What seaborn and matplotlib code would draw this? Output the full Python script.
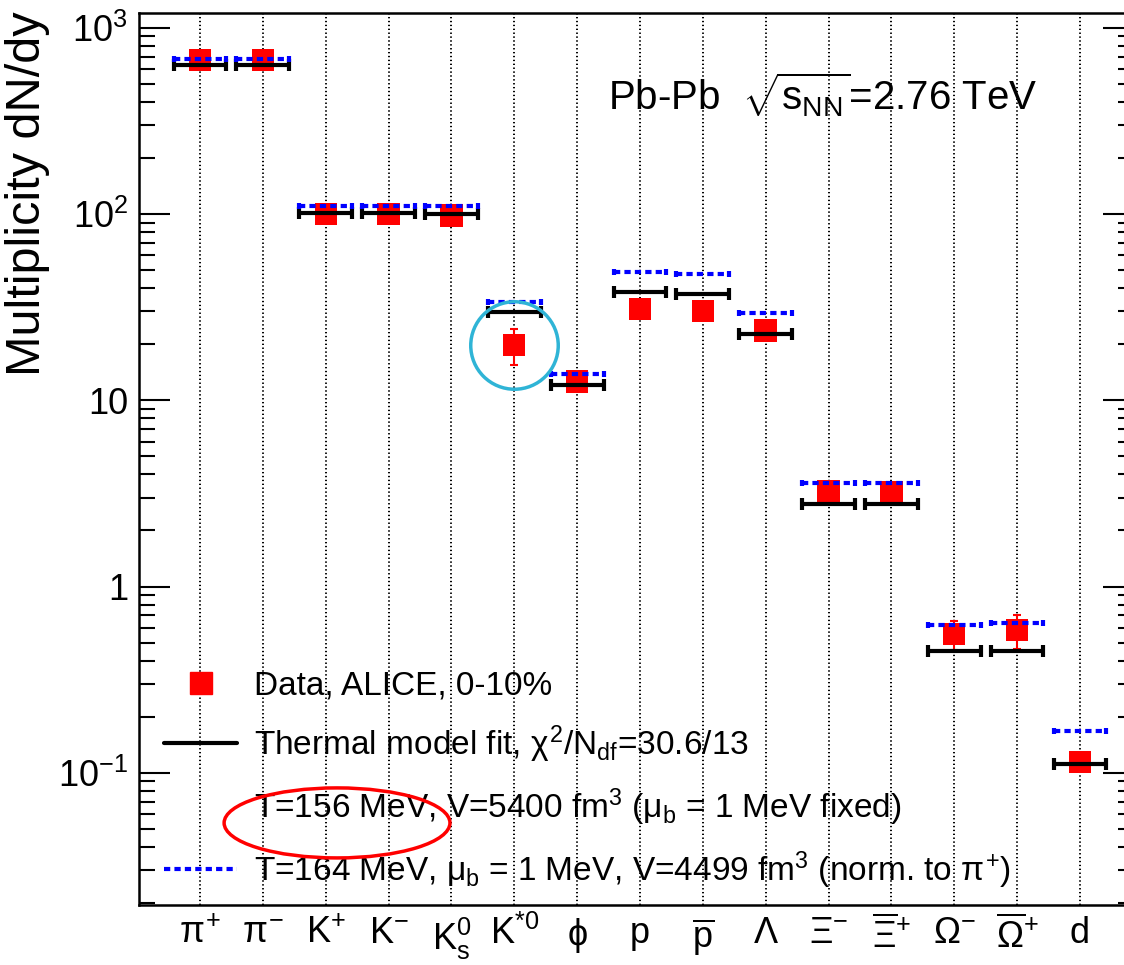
import numpy as np
import pandas as pd
import seaborn as sns
import matplotlib.pyplot as plt
from matplotlib.lines import Line2D
from matplotlib.patches import Ellipse
from matplotlib.ticker import FixedLocator, FixedFormatter, LogLocator, NullFormatter

# particle species on the x axis
species = [r"$\pi^{+}$", r"$\pi^{-}$", r"$\mathrm{K}^{+}$", r"$\mathrm{K}^{-}$",
           r"$\mathrm{K}^{0}_{\mathrm{s}}$", r"$\mathrm{K}^{*0}$", r"$\phi$", "p",
           r"$\overline{\mathrm{p}}$", r"$\Lambda$", r"$\Xi^{-}$", r"$\overline{\Xi}^{+}$",
           r"$\Omega^{-}$", r"$\overline{\Omega}^{+}$", "d"]

# ALICE data, 0-10%
data_y = [673, 673, 100, 100, 98, 19.8, 12.6, 30.8, 30.1, 23.7, 3.26, 3.22, 0.555, 0.583, 0.114]
data_err = [40, 40, 6, 6, 6, 4.3, 1.3, 2.0, 2.0, 2.5, 0.2, 0.2, 0.1, 0.12, 0.01]

# thermal model fit (T=156 MeV) and T=164 MeV normalised to pi+
fit_y = [632, 632, 101.6, 100.8, 100.4, 29.6, 12.05, 38.1, 37.3, 22.8, 2.77, 2.77, 0.448, 0.448, 0.111]
t164_y = [680, 680, 110, 110, 110, 33.6, 13.8, 48.8, 47.5, 29.3, 3.58, 3.58, 0.621, 0.637, 0.168]

ytick_vals = [0.1, 1, 10, 100, 1000]
ytick_labels = [r"$10^{-1}$", "1", "10", r"$10^{2}$", r"$10^{3}$"]

legend_labels = [
    "Data, ALICE, 0-10%",
    r"Thermal model fit, $\chi^{2}$/N$_{\mathrm{df}}$=30.6/13",
    r"T=156 MeV, V=5400 fm$^{3}$ ($\mu_{\mathrm{b}}$ = 1 MeV fixed)",
    r"T=164 MeV, $\mu_{\mathrm{b}}$ = 1 MeV, V=4499 fm$^{3}$ (norm. to $\pi^{+}$)",
]

df = pd.DataFrame({
    "x": np.arange(len(species)),
    "data": data_y,
    "err": data_err,
    "fit": fit_y,
    "t164": t164_y,
})

sns.set_theme(style="ticks")
plt.rcParams["font.family"] = ["Liberation Sans", "DejaVu Sans"]
plt.rcParams["text.color"] = "black"
plt.rcParams["axes.labelcolor"] = "black"
plt.rcParams["mathtext.fontset"] = "custom"
plt.rcParams["mathtext.rm"] = "Liberation Sans"
plt.rcParams["mathtext.it"] = "Liberation Sans"
plt.rcParams["mathtext.sf"] = "Liberation Sans"
plt.rcParams["mathtext.bf"] = "Liberation Sans:bold"

fig = plt.figure(figsize=(11.24, 9.65), dpi=100)
ax = fig.add_axes([0.1237, 0.0622, 0.8852, 0.9243])

# data points
ax.errorbar(df["x"], df["data"], yerr=df["err"], fmt="none", ecolor="red",
            elinewidth=1.5, capsize=3, capthick=1.5, zorder=2)
sns.scatterplot(data=df, x="x", y="data", marker="s", s=260, color="red",
                edgecolor="none", linewidth=0, zorder=3, ax=ax, legend=False)

# model lines
ax.errorbar(df["x"], df["fit"], xerr=0.42, fmt="none", ecolor="black",
            elinewidth=3, capsize=4, capthick=3, zorder=4)
eb = ax.errorbar(df["x"], df["t164"], xerr=0.42, fmt="none", ecolor="blue",
                 elinewidth=3, capsize=2, capthick=3, zorder=4)
eb[2][0].set_linestyle((0, (1.5, 1.0)))

# highlight marks
ax.plot(df["x"][5], df["data"][5], marker="o", ms=63, mfc="none",
        mec="#2fb4d6", mew=2.5, zorder=6)
ax.add_patch(Ellipse((0.199, 0.092), 0.227, 0.0785, transform=ax.transAxes,
                     fill=False, edgecolor="red", lw=2.5, zorder=6, clip_on=False))

ax.set_yscale("log")
ax.set_ylim(0.0195, 1200)
ax.set_xlim(-0.97, 14.86)

ax.yaxis.set_major_locator(FixedLocator(ytick_vals))
ax.yaxis.set_major_formatter(FixedFormatter(ytick_labels))
ax.yaxis.set_minor_locator(LogLocator(base=10, subs=np.arange(2, 10)))
ax.yaxis.set_minor_formatter(NullFormatter())
ax.tick_params(axis="y", which="major", direction="in", length=22, width=1.5,
               left=True, right=True, labelsize=26, pad=8, color="black", labelcolor="black")
ax.tick_params(axis="y", which="minor", direction="in", length=11.5, width=1.5,
               left=True, right=True, color="black")

ax.set_xticks(df["x"])
ax.set_xticklabels(species)
ax.tick_params(axis="x", length=0, labelsize=26, pad=8, labelcolor="black")

ax.grid(axis="x", color="black", linestyle=(0, (0.7, 1.3)), lw=1.4)
ax.grid(axis="y", visible=False)
for sp in ax.spines.values():
    sp.set_linewidth(1.8)
    sp.set_color("black")

ax.set_xlabel("")
ax.set_ylabel("")
ax.text(-0.1126, 0.798, "Multiplicity dN/dy", rotation=90, transform=ax.transAxes,
        ha="center", va="center", fontsize=35, color="black")
ax.text(0.4714, 0.908, r"Pb-Pb  $\sqrt{s_{\mathrm{NN}}}$=2.76 TeV", transform=ax.transAxes,
        ha="left", va="center", fontsize=29, color="black")

handles = [
    Line2D([], [], marker="s", color="red", ls="none", markersize=16.5),
    Line2D([], [], color="black", lw=3),
    Line2D([], [], color="none"),
    Line2D([], [], color="blue", lw=3, ls=(0, (1.5, 1.0))),
]
leg = ax.legend(handles, legend_labels, loc="upper left", bbox_to_anchor=(0.0251, 0.263),
                frameon=False, fontsize=24, handlelength=2.2, handletextpad=0.5,
                labelspacing=0.65, borderpad=0, borderaxespad=0)
for t in leg.get_texts():
    t.set_color("black")

fig.savefig("out.png", dpi=100)
